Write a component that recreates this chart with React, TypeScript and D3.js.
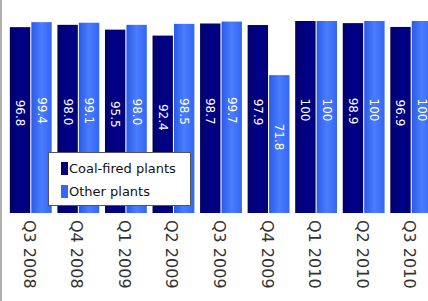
import React from 'react';
import * as d3 from 'd3';

const quarters = ['Q3 2008', 'Q4 2008', 'Q1 2009', 'Q2 2009', 'Q3 2009', 'Q4 2009', 'Q1 2010', 'Q2 2010', 'Q3 2010'];
const coalValues = [96.8, 98.0, 95.5, 92.4, 98.7, 97.9, 100, 98.9, 96.9];
const otherValues = [99.4, 99.1, 98.0, 98.5, 99.7, 71.8, 100, 100, 100];
const valueLabels = [
  ['96.8', '98.0', '95.5', '92.4', '98.7', '97.9', '100', '98.9', '96.9'],
  ['99.4', '99.1', '98.0', '98.5', '99.7', '71.8', '100', '100', '100'],
];
const seriesNames = ['Coal-fired plants', 'Other plants'];

const App = () => {
  const width = 428;
  const height = 301;
  const font = '"DejaVu Sans", Verdana, sans-serif';

  const x = d3.scaleBand<string>()
    .domain(quarters)
    .range([7, 435])
    .paddingInner(0.12)
    .paddingOuter(0.06);

  const sub = d3.scaleBand<number>()
    .domain([0, 1])
    .range([0, x.bandwidth()])
    .paddingInner(0.05);

  const y = d3.scaleLinear().domain([0, 100]).range([213, 21]);

  const series = [coalValues, otherValues];
  const fills = ['url(#gDark)', 'url(#gLight)'];
  const swatch = ['#000080', '#3366ff'];

  return (
    <svg width={width} height={height} style={{ position: 'absolute', left: 0, top: 0, background: '#fff' }}>
      <defs>
        <linearGradient id="gDark" x1="0" x2="1" y1="0" y2="0">
          <stop offset="0" stopColor="#00006a" />
          <stop offset="0.5" stopColor="#000088" />
          <stop offset="1" stopColor="#00007a" />
        </linearGradient>
        <linearGradient id="gLight" x1="0" x2="1" y1="0" y2="0">
          <stop offset="0" stopColor="#2a5be8" />
          <stop offset="0.5" stopColor="#4a7dff" />
          <stop offset="1" stopColor="#3366f2" />
        </linearGradient>
      </defs>
      <rect x={0} y={0} width={2} height={height} fill="#b0b0b0" />

      {quarters.map((q, i) => (
        <g key={q} transform={`translate(${x(q)},0)`}>
          {series.map((vals, s) => {
            const bx = sub(s) as number;
            const top = y(vals[i]);
            const mid = (top + y(0)) / 2 - 7;
            return (
              <g key={s}>
                <rect x={bx} y={top} width={sub.bandwidth()} height={y(0) - top} fill={fills[s]} />
                <text
                  transform={`translate(${bx + sub.bandwidth() / 2 - 4},${mid}) rotate(90)`}
                  textAnchor="middle"
                  fill="#fff"
                  fontFamily={font}
                  fontSize={12}
                >
                  {valueLabels[s][i]}
                </text>
              </g>
            );
          })}
          <text
            transform={`translate(${x.bandwidth() / 2 - 7},220) rotate(90)`}
            fill="#333"
            fontFamily={font}
            fontSize={16}
          >
            {q}
          </text>
        </g>
      ))}

      <g transform="translate(48,152)">
        <rect x={0.5} y={0.5} width={142} height={53} fill="#fff" stroke="#555" strokeWidth={1} />
        {seriesNames.map((name, s) => (
          <g key={name} transform={`translate(0,${s * 23})`}>
            <rect x={13} y={10} width={7} height={13} fill={swatch[s]} />
            <text x={21} y={21} fill="#111" fontFamily={font} fontSize={13}>{name}</text>
          </g>
        ))}
      </g>
    </svg>
  );
};

export default App;
